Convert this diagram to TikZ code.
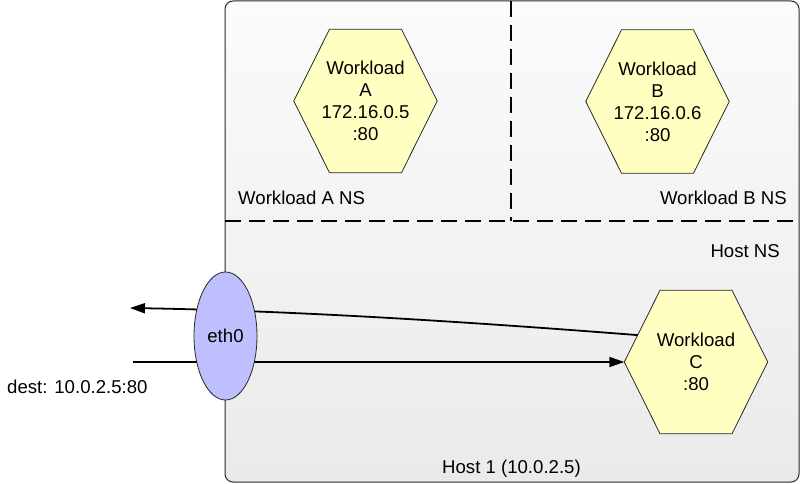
\documentclass[tikz,border=0pt]{standalone}
\usepackage{fontspec}
\setmainfont{Liberation Sans}
\usetikzlibrary{arrows.meta,calc,shapes.geometric}
\pgfdeclarelayer{back}
\pgfdeclarelayer{mid}
\pgfsetlayers{back,mid,main}
\definecolor{hexfill}{RGB}{255,255,194}
\definecolor{ethfill}{RGB}{191,191,255}
\definecolor{edgecol}{RGB}{40,40,40}
\definecolor{boxtop}{RGB}{251,251,251}
\definecolor{boxbot}{RGB}{234,234,234}
\tikzset{
  txt/.style={font=\fontsize{18.6}{22}\selectfont, inner sep=0pt},
  hexbox/.style={minimum width=143pt, minimum height=143pt, inner sep=0pt,
    align=center, font=\fontsize{18.6}{22}\selectfont},
  hexline/.style={draw=edgecol, line width=0.8pt, fill=hexfill, line join=miter},
  nsline/.style={line width=2pt, dash pattern=on 16pt off 8pt, draw=black},
  flow/.style={line width=1.8pt, draw=black, -{Triangle[length=15pt,width=10pt]}},
  ethnode/.style={ellipse, draw=edgecol, line width=0.8pt, fill=ethfill,
    minimum width=63pt, minimum height=128pt, inner sep=0pt,
    font=\fontsize{18.6}{22}\selectfont}
}
\newcommand\drawhexagon[1]{%
  \begin{pgfonlayer}{mid}
  \path[hexline] (#1.west) -- ($(#1.north)+(-36,0)$) -- ($(#1.north)+(36,0)$)
    -- (#1.east) -- ($(#1.south)+(36,0)$) -- ($(#1.south)+(-36,0)$) -- cycle;
  \end{pgfonlayer}}
\begin{document}
\begin{tikzpicture}[x=1pt,y=-1pt]
\useasboundingbox (0,0) rectangle (800,484);
% outer host box
\begin{pgfonlayer}{back}
\shade[top color=boxtop, bottom color=boxbot, rounded corners=8pt] (225,1) rectangle (799,482);
\draw[edgecol, line width=1pt, rounded corners=8pt] (225,1) rectangle (799,482);
\draw[nsline] (225,221) -- (799,221);
\draw[nsline] (511,1) -- (511,221);
\end{pgfonlayer}
% workloads
\node[hexbox] (A) at (365.5,101) {Workload\\A\\172.16.0.5\\:80};
\node[hexbox] (B) at (657.5,101.5) {Workload\\B\\172.16.0.6\\:80};
\node[hexbox] (C) at (696,362) {Workload\\C\\:80};
\drawhexagon{A}
\drawhexagon{B}
\drawhexagon{C}
% eth0
\node[ethnode] (eth) at (225.5,336) {eth0};
% labels
\node[txt, anchor=base west] (nsA) at (238,204) {Workload A NS};
\node[txt, anchor=base east] (nsB) at (787,204) {Workload B NS};
\node[txt, anchor=base east] (nsH) at (780,257) {Host NS};
\node[txt, anchor=base west] (host) at (442,473) {Host 1 (10.0.2.5)};
\node[txt, anchor=base west] (dest) at (7,393) {dest: 10.0.2.5:80};
% connectors
\coordinate (outL) at (130,308);
\coordinate (inL) at (133,362);
\coordinate (Cs) at ($(C.west)!0.375!($(C.north)+(-36,0)$)$);
\begin{pgfonlayer}{mid}
\draw[flow] (Cs) .. controls (470,322) and (300,311) .. (outL);
\draw[flow] (inL) -- (C.west);
\end{pgfonlayer}
\end{tikzpicture}
\end{document}
